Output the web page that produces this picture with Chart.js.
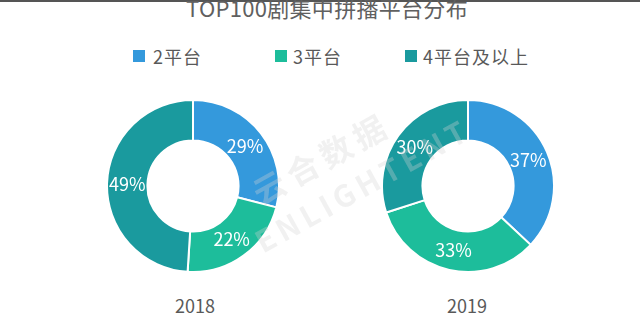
<!DOCTYPE html>
<html lang="zh">
<head>
    <meta charset="UTF-8">
    <title>TOP100剧集中拼播平台分布</title>
    <script src="https://cdn.jsdelivr.net/npm/chart.js"></script>
    <style>
        html, body {
            margin: 0;
            padding: 0;
        }
        body {
            width: 640px;
            height: 336px;
            position: relative;
            overflow: hidden;
            background: #fff;
            font-family: 'Noto Sans CJK SC', 'Noto Sans', sans-serif;
            color: #595959;
        }
        .topline {
            position: absolute;
            left: 0; top: 0;
            width: 640px; height: 2px;
            background: #555;
        }
        .title {
            position: absolute;
            left: 186px;
            top: -4px;
            font-size: 22px;
            line-height: 22px;
            letter-spacing: 0.3px;
            white-space: nowrap;
            color: #606060;
        }
        .legend .item {
            position: absolute;
            top: 47px;
            font-size: 18px;
            line-height: 18px;
            letter-spacing: 1px;
            white-space: nowrap;
            display: flex;
            align-items: center;
        }
        .legend .item span.box {
            display: inline-block;
            width: 12px;
            height: 12px;
            margin-right: 6px;
        }
        .legend .item:nth-child(1) { left: 133px; }
        .legend .item:nth-child(1) span.box { margin-right: 8px; }
        .legend .item:nth-child(2) { left: 275px; }
        .legend .item:nth-child(3) { left: 405px; }
        .pie {
            position: absolute;
            top: 99px;
            width: 174px;
            height: 174px;
        }
        .year {
            position: absolute;
            top: 294px;
            width: 80px;
            text-align: center;
            font-size: 18px;
            line-height: 22px;
            font-family: 'Noto Sans CJK SC', sans-serif;
        }
        .mark {
            position: absolute;
            left: 0; top: 0;
            width: 640px; height: 336px;
            pointer-events: none;
            color: rgba(210, 210, 210, 0.32);
            font-weight: bold;
        }
        .mark div {
            position: absolute;
            white-space: nowrap;
            transform: translate(-50%, -50%) rotate(-29deg);
        }
    </style>
</head>
<body>
    <div class="topline"></div>
    <div class="title">TOP100剧集中拼播平台分布</div>
    <div class="legend" id="legend"></div>

    <div class="pie" style="left: 106px;"><canvas id="pie2018"></canvas></div>
    <div class="pie" style="left: 381px;"><canvas id="pie2019"></canvas></div>

    <div class="year" id="year0" style="left: 155px;"></div>
    <div class="year" id="year1" style="left: 427px;"></div>

    <div class="mark">
        <div style="left: 321px; top: 157px; font-size: 32px; letter-spacing: 6px;">云合数据</div>
        <div style="left: 362px; top: 184px; font-size: 30px; letter-spacing: 5px;">ENLIGHTENT</div>
    </div>

    <script>
        // platform groups and yearly shares (%)
        const categories = ['2平台', '3平台', '4平台及以上'];
        const years = ['2018', '2019'];
        const share2018 = [29, 22, 49];
        const share2019 = [37, 33, 30];
        const colors = ['#3499dc', '#1dbd9b', '#1a9a9e'];

        // legend
        const legend = document.getElementById('legend');
        categories.forEach((name, i) => {
            const item = document.createElement('div');
            item.className = 'item';
            item.innerHTML = `<span class="box" style="background:${colors[i]}"></span>${name}`;
            legend.appendChild(item);
        });

        years.forEach((y, i) => {
            document.getElementById('year' + i).textContent = y;
        });

        // write the percentage in the middle of each slice
        const sliceLabels = {
            id: 'sliceLabels',
            afterDatasetsDraw(chart) {
                const ctx = chart.ctx;
                const meta = chart.getDatasetMeta(0);
                const data = chart.data.datasets[0].data;
                ctx.save();
                ctx.fillStyle = '#fff';
                ctx.font = '18px "Noto Sans CJK SC", "Noto Sans", sans-serif';
                ctx.textAlign = 'center';
                ctx.textBaseline = 'middle';
                meta.data.forEach((arc, i) => {
                    const pos = arc.tooltipPosition();
                    ctx.fillText(data[i] + '%', pos.x, pos.y);
                });
                ctx.restore();
            }
        };

        function makePie(id, values) {
            return new Chart(document.getElementById(id), {
                type: 'doughnut',
                data: {
                    labels: categories,
                    datasets: [{
                        data: values,
                        backgroundColor: colors,
                        borderColor: '#fff',
                        borderWidth: 2
                    }]
                },
                options: {
                    responsive: true,
                    maintainAspectRatio: false,
                    animation: false,
                    cutout: '53%',
                    events: [],
                    layout: { padding: 0 },
                    plugins: {
                        legend: { display: false },
                        tooltip: { enabled: false }
                    }
                },
                plugins: [sliceLabels]
            });
        }

        makePie('pie2018', share2018);
        makePie('pie2019', share2019);
    </script>
</body>
</html>
